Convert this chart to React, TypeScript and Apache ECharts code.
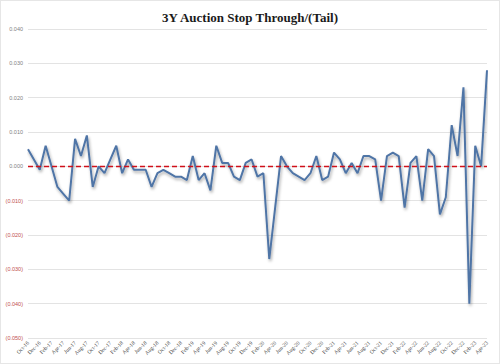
import React, { useEffect, useRef } from "react";
import * as echarts from "echarts";

const monthNames = ["Jan", "Feb", "Mar", "Apr", "May", "Jun", "Jul", "Aug", "Sep", "Oct", "Nov", "Dec"];

// Monthly auctions Oct-16 .. Apr-23
const categories: string[] = [];
for (let i = 0; i < 79; i++) {
  const m = (9 + i) % 12;
  const y = 16 + Math.floor((9 + i) / 12);
  categories.push(`${monthNames[m]}-${y}`);
}

const stopThrough = [
  0.005, 0.002, -0.001, 0.006, 0.0, -0.006, -0.008, -0.010, 0.008, 0.003,
  0.009, -0.006, 0.0, -0.002, 0.002, 0.006, -0.002, 0.002, -0.001, -0.001,
  -0.001, -0.006, -0.002, -0.001, -0.002, -0.003, -0.003, -0.004, 0.003, -0.004,
  -0.002, -0.007, 0.006, 0.001, 0.001, -0.003, -0.004, 0.001, 0.002, -0.003,
  -0.002, -0.027, -0.012, 0.003, 0.0, -0.002, -0.003, -0.004, -0.002, 0.003,
  -0.004, -0.003, 0.004, 0.002, -0.002, 0.001, -0.002, 0.003, 0.003, 0.002,
  -0.010, 0.003, 0.004, 0.003, -0.012, 0.001, 0.003, -0.010, 0.005, 0.003,
  -0.014, -0.009, 0.012, 0.003, 0.023, -0.040, 0.006, 0.0, 0.028,
];

const yMin = -0.05;
const yMax = 0.04;
const yInterval = 0.01;

export default function App() {
  const ref = useRef<HTMLDivElement>(null);
  useEffect(() => {
    if (!ref.current) return;
    const chart = echarts.init(ref.current, null, { renderer: "svg" });
    chart.setOption({
      animation: false,
      backgroundColor: "#ffffff",
      title: {
        text: "3Y Auction Stop Through/(Tail)",
        left: "center",
        top: 5,
        textStyle: {
          fontFamily: "Liberation Serif",
          fontWeight: "bold",
          fontSize: 13,
          color: "#1a1a1a",
        },
      },
      grid: { left: 27, right: 12, top: 28, bottom: 25 },
      xAxis: {
        type: "category",
        data: categories,
        boundaryGap: false,
        axisLine: { show: false },
        axisTick: { show: false },
        splitLine: { show: false },
        axisLabel: {
          interval: 1,
          rotate: 45,
          fontSize: 5.5,
          fontFamily: "Liberation Serif",
          color: "#404040",
          margin: 4,
        },
      },
      yAxis: {
        type: "value",
        min: yMin,
        max: yMax,
        interval: yInterval,
        axisLine: { show: false },
        axisTick: { show: false },
        splitLine: { lineStyle: { color: "#e3e3e3", width: 1 } },
        axisLabel: {
          fontSize: 5.5,
          fontFamily: "Liberation Sans",
          margin: 5,
          formatter: (v: number) => {
            const s = Math.abs(v).toFixed(3);
            return v < -1e-9 ? `{neg|(${s})}` : `{pos|${s}}`;
          },
          rich: {
            neg: { color: "#c0504d", fontSize: 5.5, fontFamily: "Liberation Sans" },
            pos: { color: "#7f7f7f", fontSize: 5.5, fontFamily: "Liberation Sans" },
          },
        },
      },
      series: [
        {
          type: "line",
          data: stopThrough,
          symbol: "none",
          lineStyle: {
            color: "#4f74a6",
            width: 2,
            shadowColor: "rgba(0,0,0,0.35)",
            shadowBlur: 3,
            shadowOffsetX: 1,
            shadowOffsetY: 2,
          },
          markLine: {
            silent: true,
            symbol: "none",
            label: { show: false },
            lineStyle: { color: "#d0101a", type: [5, 3], width: 1.3 },
            data: [{ yAxis: 0 }],
          },
          z: 3,
        },
      ],
    });
    return () => chart.dispose();
  }, []);
  return (
    <div
      ref={ref}
      style={{
        position: "fixed",
        left: 0,
        top: 0,
        width: 500,
        height: 364,
        boxSizing: "border-box",
        border: "1px solid #e6e6e6",
      }}
    />
  );
}
